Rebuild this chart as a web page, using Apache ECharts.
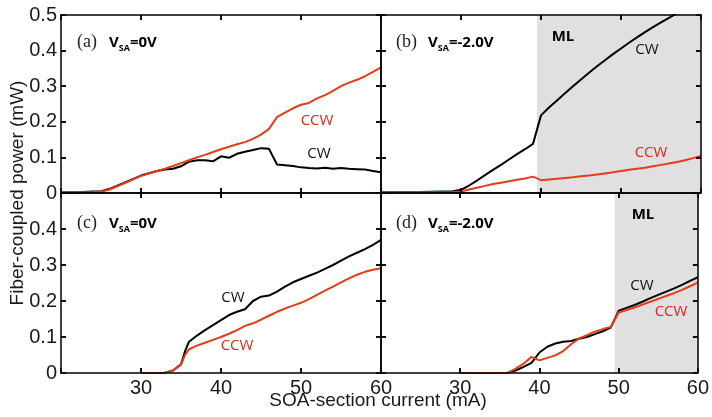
<!DOCTYPE html>
<html>
<head>
<meta charset="utf-8">
<script src="https://cdn.jsdelivr.net/npm/echarts@6/dist/echarts.min.js"></script>
<style>
  html, body { margin: 0; padding: 0; background: #fff; }
  #chart { width: 712px; height: 417px; }
</style>
</head>
<body>
<div id="chart"></div>
<script>
// 数据 (mA / mW)
const aCur = [20, 22, 24, 25, 26, 28, 30, 32, 33, 34, 35, 36, 37, 38, 39, 40, 41, 42, 43, 44, 45, 46, 47, 48, 49, 50, 51, 52, 53, 54, 55, 56, 57, 58, 59, 60]
const aCCW = [0.002, 0.002, 0.003, 0.004, 0.009, 0.028, 0.048, 0.062, 0.068, 0.076, 0.084, 0.092, 0.1, 0.107, 0.115, 0.123, 0.13, 0.137, 0.143, 0.152, 0.164, 0.18, 0.213, 0.226, 0.238, 0.248, 0.253, 0.266, 0.275, 0.287, 0.3, 0.31, 0.318, 0.328, 0.34, 0.353]
const aCW = [0.002, 0.002, 0.004, 0.005, 0.011, 0.03, 0.049, 0.062, 0.066, 0.068, 0.075, 0.088, 0.092, 0.092, 0.089, 0.103, 0.099, 0.11, 0.116, 0.121, 0.126, 0.124, 0.08, 0.078, 0.076, 0.072, 0.07, 0.069, 0.071, 0.068, 0.07, 0.068, 0.067, 0.066, 0.062, 0.058]

const bCur = [20, 25, 29, 30, 31, 32, 33, 34, 35, 36, 37, 38, 39, 40, 41, 42, 43, 44, 45, 46, 47, 48, 49, 50, 51, 52, 53, 54, 55, 56, 57, 58, 59, 60]
const bCW = [0.002, 0.003, 0.005, 0.009, 0.021, 0.035, 0.05, 0.065, 0.079, 0.094, 0.109, 0.123, 0.138, 0.218, 0.24, 0.26, 0.28, 0.3, 0.319, 0.338, 0.356, 0.373, 0.39, 0.406, 0.422, 0.437, 0.452, 0.466, 0.479, 0.492, 0.505, 0.517, 0.529, 0.54]
const bCCW = [0.002, 0.002, 0.003, 0.004, 0.01, 0.015, 0.02, 0.025, 0.029, 0.033, 0.037, 0.041, 0.046, 0.036, 0.038, 0.04, 0.042, 0.044, 0.047, 0.049, 0.052, 0.055, 0.058, 0.062, 0.065, 0.068, 0.071, 0.075, 0.079, 0.083, 0.087, 0.092, 0.098, 0.104]

const cCur = [30, 32, 33, 34, 35, 35.5, 36, 37, 38, 39, 40, 41, 42, 43, 44, 45, 46, 47, 48, 49, 50, 51, 52, 53, 54, 55, 56, 57, 58, 59, 60]
const cCW = [0, 0, 0.001, 0.007, 0.024, 0.06, 0.087, 0.104, 0.119, 0.133, 0.147, 0.161, 0.17, 0.177, 0.2, 0.212, 0.215, 0.226, 0.24, 0.252, 0.261, 0.27, 0.279, 0.289, 0.3, 0.312, 0.324, 0.334, 0.344, 0.356, 0.37]
const cCCW = [0, 0, 0.001, 0.007, 0.024, 0.05, 0.066, 0.076, 0.084, 0.092, 0.1, 0.109, 0.119, 0.131, 0.138, 0.148, 0.159, 0.17, 0.179, 0.187, 0.195, 0.205, 0.217, 0.229, 0.24, 0.252, 0.263, 0.273, 0.281, 0.287, 0.291]

const dCur = [30, 35, 36, 37, 38, 39, 40, 41, 42, 43, 44, 45, 46, 47, 48, 49, 50, 51, 52, 53, 54, 55, 56, 57, 58, 59, 60]
const dCW = [0, 0, 0.001, 0.007, 0.017, 0.028, 0.057, 0.073, 0.082, 0.087, 0.089, 0.095, 0.1, 0.108, 0.116, 0.126, 0.173, 0.181, 0.189, 0.198, 0.208, 0.217, 0.226, 0.235, 0.245, 0.256, 0.266]
const dCCW = [0, 0, 0.001, 0.012, 0.026, 0.045, 0.035, 0.042, 0.049, 0.061, 0.08, 0.096, 0.105, 0.115, 0.122, 0.128, 0.168, 0.175, 0.182, 0.19, 0.198, 0.206, 0.214, 0.222, 0.231, 0.241, 0.251]

// 锁模区域 (ML)
const mlB = [39.5, 60]
const mlD = [49.5, 60]

// 刻度位置
const xTicks = [30, 40, 50]
const yTicks = [0.1, 0.2, 0.3, 0.4]

const RED = '#e43c18'
const RED_TXT = '#d42a1a'

const pair = (xs, ys) => xs.map((x, i) => [x, ys[i]])

const grids = [
  { left: 61, top: 15, width: 320, height: 178 },
  { left: 381, top: 15, width: 321, height: 178 },
  { left: 61, top: 193, width: 320, height: 180 },
  { left: 381, top: 193, width: 321, height: 180 }
]

// 坐标轴：每个面板上下左右各一条
const blank = () => ''
const xAxes = []
const yAxes = []
grids.forEach((g, i) => {
  const bottomRow = i >= 2
  const leftCol = i % 2 === 0
  const tick = () => ({ show: true, inside: true, length: 5, lineStyle: { color: '#000', width: 1.5 } })
  const line = () => ({ show: true, onZero: false, lineStyle: { color: '#000', width: 1.5 } })
  const lbl = (show, extra) => Object.assign({
    show: true, color: '#1a1a1a', fontSize: 20, fontFamily: 'Liberation Sans'
  }, show ? extra : { formatter: blank })
  xAxes.push({
    type: 'value', gridIndex: i, min: 20, max: 60, interval: 10, position: 'bottom', z: 5,
    axisLine: line(), axisTick: tick(), splitLine: { show: false },
    axisLabel: lbl(bottomRow, { margin: 5, formatter: v => (v === 20 ? '' : String(v)) })
  })
  xAxes.push({
    type: 'value', gridIndex: i, min: 20, max: 60, interval: 10, position: 'top', z: 5,
    axisLine: line(), axisTick: tick(), splitLine: { show: false },
    axisLabel: lbl(false)
  })
  yAxes.push({
    type: 'value', gridIndex: i, min: 0, max: 0.5, interval: 0.1, position: 'left', z: 5,
    axisLine: line(), axisTick: tick(), splitLine: { show: false },
    axisLabel: lbl(leftCol, {
      margin: 4,
      formatter: v => (v === 0 ? '0' : (bottomRow && v > 0.45 ? '' : v.toFixed(1)))
    })
  })
  yAxes.push({
    type: 'value', gridIndex: i, min: 0, max: 0.5, interval: 0.1, position: 'right', z: 5,
    axisLine: line(), axisTick: tick(), splitLine: { show: false },
    axisLabel: lbl(false)
  })
})

// 内向短刻度（四边），用 markLine 按数据坐标再画一遍
function tickLines(panel) {
  const dy = 5 / grids[panel].height * 0.5
  const dx = 5 / grids[panel].width * 40
  const segs = []
  xTicks.forEach(x => {
    segs.push([{ coord: [x, 0] }, { coord: [x, dy] }])
    segs.push([{ coord: [x, 0.5] }, { coord: [x, 0.5 - dy] }])
  })
  yTicks.forEach(y => {
    segs.push([{ coord: [20, y] }, { coord: [20 + dx, y] }])
    segs.push([{ coord: [60, y] }, { coord: [60 - dx, y] }])
  })
  return {
    silent: true, symbol: ['none', 'none'], animation: false, z: 6,
    label: { show: false },
    lineStyle: { color: '#000', width: 1.5, type: 'solid' },
    data: segs
  }
}

function curve(panel, data, color, ml, ticks) {
  const s = {
    type: 'line', xAxisIndex: panel * 2, yAxisIndex: panel * 2,
    data: data, showSymbol: false, symbol: 'none', z: 3,
    lineStyle: { color: color, width: 2 }
  }
  if (ml) {
    s.markArea = {
      silent: true,
      itemStyle: { color: '#e0e0e0' },
      data: [[{ xAxis: ml[0] }, { xAxis: ml[1] }]]
    }
  }
  if (ticks) s.markLine = tickLines(panel)
  return s
}

const series = [
  curve(0, pair(aCur, aCW), '#000', null, false),
  curve(0, pair(aCur, aCCW), RED, null, true),
  curve(1, pair(bCur, bCW), '#000', mlB, false),
  curve(1, pair(bCur, bCCW), RED, null, true),
  curve(2, pair(cCur, cCW), '#000', null, false),
  curve(2, pair(cCur, cCCW), RED, null, true),
  curve(3, pair(dCur, dCW), '#000', mlD, false),
  curve(3, pair(dCur, dCCW), RED, null, true)
]

const sans = 'Open Sans'
function txt(x, y, text, color, extra) {
  return {
    type: 'text', x: x, y: y, z: 10,
    style: Object.assign({ text: text, fill: color, font: '15px "' + sans + '"', align: 'center', verticalAlign: 'middle' }, extra || {})
  }
}
function label(x, y, letter, volts) {
  return [
    {
      type: 'text', x: x, y: y, z: 10,
      style: { text: '(' + letter + ')', fill: '#222', font: '18px "Liberation Serif"', verticalAlign: 'middle' }
    },
    {
      type: 'text', x: x + 32, y: y + 1, z: 10,
      style: {
        text: '{v|V}{s|SA}{v|=' + volts + '}',
        verticalAlign: 'middle',
        rich: {
          v: { fontSize: 15, fontWeight: 'bold', fontFamily: sans, fill: '#000', lineHeight: 20, verticalAlign: 'middle' },
          s: { fontSize: 9, fontWeight: 'bold', fontFamily: sans, fill: '#000', lineHeight: 11, verticalAlign: 'bottom' }
        }
      }
    }
  ]
}

const graphic = [].concat(
  label(77, 42, 'a', '0V'),
  label(396, 42, 'b', '-2.0V'),
  label(77, 223, 'c', '0V'),
  label(396, 223, 'd', '-2.0V'),
  [
    txt(563, 37, 'ML', '#000', { font: 'bold 15px "' + sans + '"' }),
    txt(643, 215, 'ML', '#000', { font: 'bold 15px "' + sans + '"' }),
    txt(317, 121, 'CCW', RED_TXT),
    txt(319, 154, 'CW', '#111'),
    txt(647, 50, 'CW', '#111'),
    txt(651, 153, 'CCW', RED_TXT),
    txt(233, 298, 'CW', '#111'),
    txt(237, 346, 'CCW', RED_TXT),
    txt(642, 286, 'CW', '#111'),
    txt(671, 312, 'CCW', RED_TXT),
    {
      type: 'text', x: 18, y: 193, rotation: Math.PI / 2, z: 10,
      style: { text: 'Fiber-coupled power (mW)', fill: '#1a1a1a', font: '19px "Liberation Sans"', align: 'center', verticalAlign: 'middle' }
    },
    {
      type: 'text', x: 378, y: 401, z: 10,
      style: { text: 'SOA-section current (mA)', fill: '#1a1a1a', font: '19px "Liberation Sans"', align: 'center', verticalAlign: 'middle' }
    }
  ]
)

const chart = echarts.init(document.getElementById('chart'))
chart.setOption({
  animation: false,
  grid: grids,
  xAxis: xAxes,
  yAxis: yAxes,
  series: series,
  graphic: graphic
})
</script>
</body>
</html>
